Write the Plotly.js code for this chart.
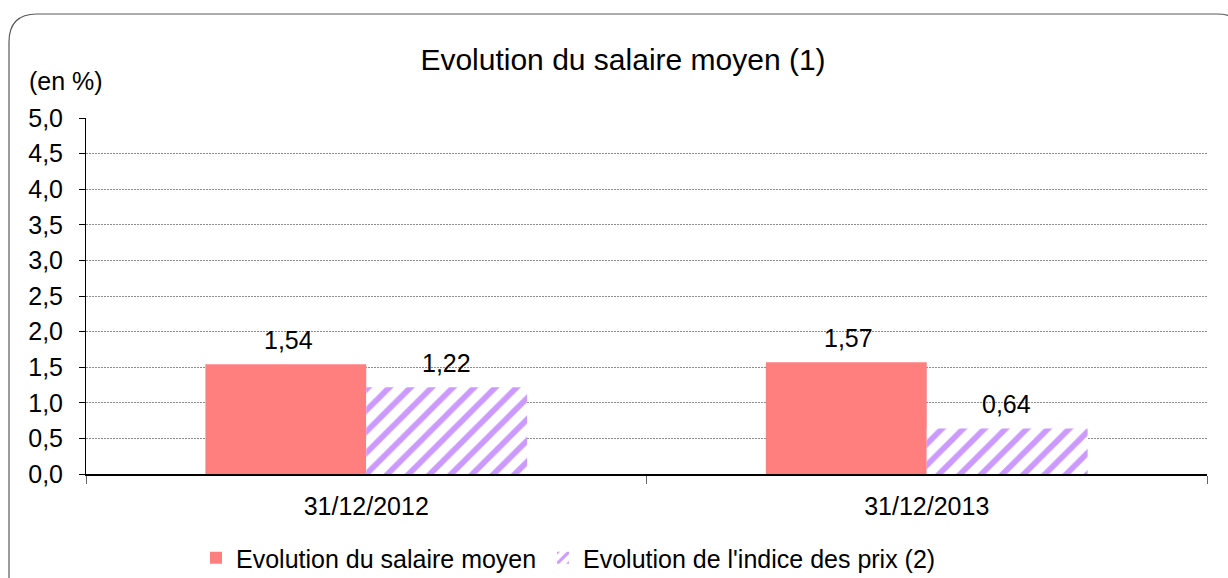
<!DOCTYPE html>
<html><head><meta charset="utf-8">
<script src="https://cdn.plot.ly/plotly-3.0.1.min.js"></script>
<style>html,body{margin:0;padding:0;background:#fff}#chart{width:1228px;height:578px}</style>
</head><body><div id="chart"></div>
<script>
const categories = ["31/12/2012", "31/12/2013"];
const salaireMoyen = [1.54, 1.57];
const indicePrix = [1.22, 0.64];
const seriesNames = ["Evolution du salaire moyen", "Evolution de l'indice des prix (2)"];
const yTicks = [0, 0.5, 1, 1.5, 2, 2.5, 3, 3.5, 4, 4.5, 5];
const yGrid = [0.5, 1, 1.5, 2, 2.5, 3, 3.5, 4, 4.5];

const W = 1228, H = 578;
const mL = 86, mR = 21, mT = 118, mB = 104;
const pw = W - mL - mR, ph = H - mT - mB;
const px2x = p => (p - mL) / pw;
const py2y = p => (H - mB - p) / ph;

const font = "Liberation Sans, Arial, sans-serif";
const fs = 25;

const traces = [
  {type: "bar", name: seriesNames[0], x: categories, y: salaireMoyen, legend: "legend",
   marker: {color: "#FF7F7F"}, hoverinfo: "none"},
  {type: "bar", name: seriesNames[1], x: categories, y: indicePrix, legend: "legend2",
   marker: {color: "#ffffff", pattern: {shape: "/", fgcolor: "#CC99FF", bgcolor: "#ffffff", size: 15, solidity: 0.38}},
   hoverinfo: "none"}
];

const fmt = v => v.toFixed(2).replace(".", ",");
const annotations = [];
categories.forEach((c, i) => {
  annotations.push({x: c, y: salaireMoyen[i], xref: "x", yref: "y", text: fmt(salaireMoyen[i]), showarrow: false,
    xanchor: "center", yanchor: "middle", xshift: -78, yshift: 24, font: {family: font, size: fs, color: "#000"}});
  annotations.push({x: c, y: indicePrix[i], xref: "x", yref: "y", text: fmt(indicePrix[i]), showarrow: false,
    xanchor: "center", yanchor: "middle", xshift: 80, yshift: 24, font: {family: font, size: fs, color: "#000"}});
});
annotations.push({xref: "paper", yref: "paper", x: px2x(66), y: py2y(81), text: "(en %)", showarrow: false,
  xanchor: "center", yanchor: "middle", font: {family: font, size: fs, color: "#000"}});

// rounded border frame
const r = 28;
const L = 9, T = 14, R = 1245, B = 600;
const path = `M ${px2x(L)},${py2y(B)} L ${px2x(L)},${py2y(T + r)} Q ${px2x(L)},${py2y(T)} ${px2x(L + r)},${py2y(T)} ` +
  `L ${px2x(R - r)},${py2y(T)} Q ${px2x(R)},${py2y(T)} ${px2x(R)},${py2y(T + r)} L ${px2x(R)},${py2y(B)}`;

const legendBase = {orientation: "h", xanchor: "left", y: py2y(558), yanchor: "middle",
  font: {family: font, size: fs, color: "#000"}, bgcolor: "rgba(0,0,0,0)"};

const layout = {
  width: W, height: H,
  margin: {l: mL, r: mR, t: mT, b: mB, autoexpand: false},
  paper_bgcolor: "#fff", plot_bgcolor: "#fff",
  separators: ", ",
  font: {family: font, size: fs, color: "#000"},
  title: {text: "Evolution du salaire moyen (1)", font: {family: font, size: 30, color: "#000"},
    xref: "paper", x: px2x(623), xanchor: "center", yref: "container", y: 1 - 59 / H, yanchor: "middle"},
  barmode: "group", bargap: 0.426, bargroupgap: 0,
  showlegend: true,
  legend: Object.assign({}, legendBase, {x: px2x(196)}),
  legend2: Object.assign({}, legendBase, {x: px2x(543)}),
  xaxis: {type: "category", automargin: false, showline: true, linecolor: "#000", linewidth: 1.5, ticks: "outside", tickson: "boundaries",
    ticklen: 8, tickcolor: "#666", ticklabelstandoff: 9, tickfont: {family: font, size: fs, color: "#000"}, showgrid: false, zeroline: false},
  yaxis: {range: [0, 5], automargin: false, tickvals: yTicks, tickformat: ".1f", showline: true, linecolor: "#000", linewidth: 1,
    ticks: "outside", ticklen: 6, tickcolor: "#000", ticklabelstandoff: 11, showgrid: false,
    minor: {tickvals: yGrid, showgrid: true, gridcolor: "#8c8c8c", griddash: "2px,1px", gridwidth: 1, ticks: ""},
    zeroline: false, tickfont: {family: font, size: fs, color: "#000"}},
  annotations: annotations,
  shapes: [{type: "path", xref: "paper", yref: "paper", path: path, line: {color: "#595959", width: 1.2}, layer: "below"}]
};

Plotly.newPlot("chart", traces, layout, {displayModeBar: false, staticPlot: true});
</script></body></html>
